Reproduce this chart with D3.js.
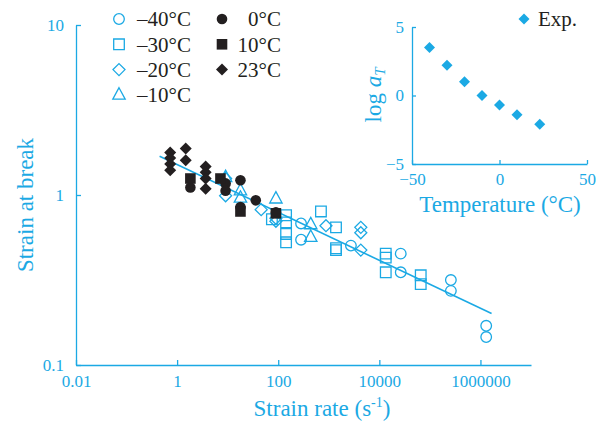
<!DOCTYPE html>
<meta charset="utf-8">
<head>
  <title>Strain at break vs strain rate</title>
</head>

<style>
body {
  margin: 0;
  background: #fff;
}
text {
  font-family: "Liberation Serif", "Times New Roman", serif;
}
.axis path, .axis line {
  stroke: #1ba9e4;
  stroke-width: 1.3;
  fill: none;
}
.axis text {
  fill: #1ba9e4;
  font-size: 17px;
}
.title {
  fill: #1ba9e4;
  font-size: 23px;
}
.legend text {
  fill: #231f20;
  font-size: 21px;
}
</style>

<body>
  <svg width="607" height="430">
    <g class="main"></g>
    <g class="inset"></g>
    <g class="legend"></g>
  </svg>

  <script src="https://cdnjs.cloudflare.com/ajax/libs/d3/7.8.5/d3.min.js"></script>
  <script>
var blue = '#1ba9e4', black = '#231f20'

// strain rate (1/s) and strain at break for each test temperature
var tempLabels = ['–40°C', '–30°C', '–20°C', '–10°C', '0°C', '10°C', '23°C']

var rateM40 = [283, 283, 2740, 26500, 26500, 260000, 260000, 1300000, 1300000]
var strainM40 = [0.68, 0.546, 0.504, 0.452, 0.351, 0.316, 0.273, 0.170, 0.146]

var rateM30 = [75, 143, 143, 143, 143, 700, 1390, 1390, 1390, 13400, 13400, 13400, 65900, 65900]
var strainM30 = [0.72, 0.76, 0.69, 0.59, 0.527, 0.80, 0.645, 0.486, 0.474, 0.452, 0.428, 0.351, 0.337, 0.299]

var rateM20 = [9.1, 9.1, 46, 90, 90, 880, 4300, 4300, 4300]
var strainM20 = [1.25, 0.99, 0.82, 0.73, 0.70, 0.66, 0.645, 0.60, 0.474]

var rateM10 = [9.1, 17.9, 17.9, 90, 440, 440]
var strainM10 = [1.27, 1.06, 0.96, 0.95, 0.67, 0.565]

var rateP0 = [1.83, 9.1, 9.1, 17.9, 17.9, 36, 90]
var strainP0 = [1.107, 1.17, 1.06, 1.22, 0.85, 0.93, 0.79]

var rateP10 = [1.83, 7.2, 17.9, 90]
var strainP10 = [1.25, 1.25, 0.80, 0.78]

var rateP23 = [0.73, 0.73, 0.73, 0.73, 1.48, 1.48, 3.67, 3.67, 3.67, 3.67]
var strainP23 = [1.78, 1.65, 1.52, 1.40, 1.88, 1.60, 1.47, 1.36, 1.25, 1.09]

// master curve fit (end points)
var fitRate = [0.45, 1.66e6]
var fitStrain = [1.69, 0.201]

// shift factors
var shiftTemp = [-40, -30, -20, -10, 0, 10, 23]
var logAT = [3.5, 2.2, 1.0, 0.0, -0.7, -1.4, -2.1]

var xTicks = [0.01, 1, 100, 10000, 1000000]
var yTicks = [0.1, 1, 10]
var insetXTicks = [-50, 0, 50]
var insetYTicks = [-5, 0, 5]

var series = [
  {rate: rateM40, strain: strainM40, shape: 'circle', fill: false},
  {rate: rateM30, strain: strainM30, shape: 'square', fill: false},
  {rate: rateM20, strain: strainM20, shape: 'diamond', fill: false},
  {rate: rateM10, strain: strainM10, shape: 'triangle', fill: false},
  {rate: rateP0, strain: strainP0, shape: 'circle', fill: true},
  {rate: rateP10, strain: strainP10, shape: 'square', fill: true},
  {rate: rateP23, strain: strainP23, shape: 'diamond', fill: true}
]
series.forEach(function(s, i) { s.label = tempLabels[i] })

function shapePath(shape) {
  if (shape == 'circle') {
    var p = d3.path()
    p.arc(0, 0, 5.3, 0, 2 * Math.PI)
    return p.toString()
  }
  if (shape == 'square') return 'M-5.3,-5.3H5.3V5.3H-5.3Z'
  if (shape == 'diamond') return 'M0,-6L6,0L0,6L-6,0Z'
  return 'M0,-7.2L6.2,4.2L-6.2,4.2Z'
}

function styleMarker(sel, s) {
  sel.attr('d', shapePath(s.shape))
    .attr('fill', s.fill ? black : 'none')
    .attr('stroke', s.fill ? 'none' : blue)
    .attr('stroke-width', 1.3)
}

var svg = d3.select('svg')

// ---- main plot ----
var x = d3.scaleLog().domain([0.01, 1e7]).range([76, 531])
var y = d3.scaleLog().domain([0.1, 10]).range([365, 25])

var main = d3.select('.main')

main.append('g')
  .attr('class', 'axis')
  .attr('transform', 'translate(0,365)')
  .call(d3.axisBottom(x).tickValues(xTicks).tickSize(-5).tickSizeOuter(0).tickPadding(10)
    .tickFormat(function(d) { return d < 1 ? String(d) : d3.format('d')(d) }))

main.append('g')
  .attr('class', 'axis')
  .attr('transform', 'translate(76,0)')
  .call(d3.axisLeft(y).tickValues(yTicks).tickSize(-5).tickSizeOuter(0).tickPadding(12)
    .tickFormat(function(d) { return String(d) }))

main.append('line')
  .attr('x1', x(fitRate[0])).attr('y1', y(fitStrain[0]))
  .attr('x2', x(fitRate[1])).attr('y2', y(fitStrain[1]))
  .attr('stroke', blue)
  .attr('stroke-width', 1.6)

series.forEach(function(s) {
  var pts = s.rate.map(function(r, i) { return [r, s.strain[i]] })
  main.append('g')
    .selectAll('path')
    .data(pts)
    .enter()
    .append('path')
    .attr('transform', function(d) { return 'translate(' + x(d[0]) + ',' + y(d[1]) + ')' })
    .call(styleMarker, s)
})

main.append('text')
  .attr('class', 'title')
  .attr('x', 322).attr('y', 416)
  .attr('text-anchor', 'middle')
  .text('Strain rate (s')
  .append('tspan').attr('font-size', 14).attr('dy', -9).text('-1')
  .select(function() { return this.parentNode })
  .append('tspan').attr('dy', 9).text(')')

main.append('text')
  .attr('class', 'title')
  .attr('transform', 'translate(33,205) rotate(-90)')
  .attr('text-anchor', 'middle')
  .text('Strain at break')

// ---- legend ----
var legend = d3.select('.legend')
series.forEach(function(s, i) {
  var col = i < 4 ? 0 : 1
  var row = i < 4 ? i : i - 4
  var ly = 19 + row * 25.3
  var mx = col == 0 ? 119 : 222
  legend.append('path')
    .attr('transform', 'translate(' + mx + ',' + ly + ')')
    .call(styleMarker, s)
  legend.append('text')
    .attr('x', col == 0 ? 137 : 281)
    .attr('y', ly)
    .attr('dy', '0.35em')
    .attr('text-anchor', col == 0 ? 'start' : 'end')
    .text(s.label)
})

// ---- inset: shift factors ----
var ix = d3.scaleLinear().domain([-50, 50]).range([412, 587])
var iy = d3.scaleLinear().domain([-5, 5]).range([164, 27])

var inset = d3.select('.inset')

inset.append('g')
  .attr('class', 'axis')
  .attr('transform', 'translate(0,164)')
  .call(d3.axisBottom(ix).tickValues(insetXTicks).tickSize(-4).tickSizeOuter(0).tickPadding(9))

inset.append('g')
  .attr('class', 'axis')
  .attr('transform', 'translate(412,0)')
  .call(d3.axisLeft(iy).tickValues(insetYTicks).tickSize(-4).tickSizeOuter(0).tickPadding(8))

inset.append('g')
  .selectAll('path')
  .data(shiftTemp.map(function(t, i) { return [t, logAT[i]] }))
  .enter()
  .append('path')
  .attr('transform', function(d) { return 'translate(' + ix(d[0]) + ',' + iy(d[1]) + ')' })
  .attr('d', 'M0,-5.5L5.5,0L0,5.5L-5.5,0Z')
  .attr('fill', blue)

inset.append('path')
  .attr('transform', 'translate(524,19)')
  .attr('d', 'M0,-5.5L5.5,0L0,5.5L-5.5,0Z')
  .attr('fill', blue)

inset.append('text')
  .attr('x', 538).attr('y', 19).attr('dy', '0.35em')
  .attr('fill', black)
  .attr('font-size', 21)
  .text('Exp.')

inset.append('text')
  .attr('class', 'title')
  .attr('x', 500).attr('y', 212)
  .attr('text-anchor', 'middle')
  .text('Temperature (°C)')

var ylab = inset.append('text')
  .attr('class', 'title')
  .attr('transform', 'translate(381,95) rotate(-90)')
  .attr('text-anchor', 'middle')
ylab.append('tspan').text('log ')
ylab.append('tspan').attr('font-style', 'italic').text('a')
ylab.append('tspan').attr('font-style', 'italic').attr('font-size', 15).attr('dy', 4).text('T')
  </script>
</body>
</html>
